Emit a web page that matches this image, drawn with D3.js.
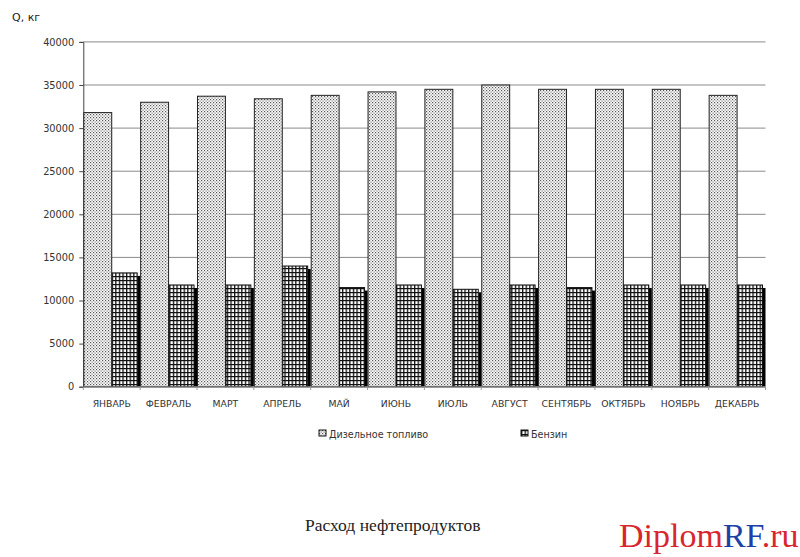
<!DOCTYPE html>
<html><head><meta charset="utf-8">
<script src="https://cdn.jsdelivr.net/npm/d3@7"></script>
<style>body{margin:0;background:#fff}svg{display:block}</style>
</head><body>
<script>
const months = ["ЯНВАРЬ","ФЕВРАЛЬ","МАРТ","АПРЕЛЬ","МАЙ","ИЮНЬ","ИЮЛЬ","АВГУСТ","СЕНТЯБРЬ","ОКТЯБРЬ","НОЯБРЬ","ДЕКАБРЬ"];
const diesel = [31800,33000,33700,33400,33800,34200,34500,35000,34500,34500,34500,33800];
const petrol = [13200,11800,11800,14000,11500,11800,11300,11800,11500,11800,11800,11800];
const seriesNames = ["Дизельное топливо","Бензин"];
const yTicks = [0,5000,10000,15000,20000,25000,30000,35000,40000];
const yLabel = "Q, кг";
const title = "Расход нефтепродуктов";

const W=800,H=557;
const svg=d3.select("body").append("svg").attr("width",W).attr("height",H);
const defs=svg.append("defs");
const pd=defs.append("pattern").attr("id","pDiesel").attr("patternUnits","userSpaceOnUse").attr("width",3).attr("height",3);
pd.append("rect").attr("width",3).attr("height",3).attr("fill","#fff");
pd.append("rect").attr("x",0).attr("y",0).attr("width",1.2).attr("height",1.2).attr("fill","#555");
pd.append("rect").attr("x",1.5).attr("y",1.5).attr("width",1.2).attr("height",1.2).attr("fill","#777");
const pp=defs.append("pattern").attr("id","pPetrol").attr("patternUnits","userSpaceOnUse").attr("width",3.6).attr("height",4);
pp.append("rect").attr("width",3.6).attr("height",4).attr("fill","#fff");
pp.append("rect").attr("x",0).attr("y",0).attr("width",1.3).attr("height",4).attr("fill","#111");
pp.append("rect").attr("x",0).attr("y",0).attr("width",3.6).attr("height",1.2).attr("fill","#111");

const x=d3.scaleBand().domain(months).range([83.3,765.5]).padding(0);
const y=d3.scaleLinear().domain([0,40000]).range([386.7,41.9]);
const xs=d3.scaleBand().domain(seriesNames).range([0,x.bandwidth()]).padding(0);

// gridlines
svg.append("g").selectAll("line").data(yTicks.filter(d=>d>0)).join("line")
  .attr("x1",83.3).attr("x2",765.5).attr("y1",d=>y(d)).attr("y2",d=>y(d))
  .attr("stroke","#8a8a8a").attr("stroke-width",1);

// y axis
const ya=svg.append("g").attr("transform","translate(83.3,0)")
  .call(d3.axisLeft(y).tickValues(yTicks).tickSize(4).tickFormat(d3.format("d")));
ya.select(".domain").attr("stroke","#444");
ya.selectAll(".tick line").attr("stroke","#444");
ya.selectAll("text").attr("font-family","DejaVu Sans").attr("font-size",9.8).attr("fill","#333").attr("x",-9);

// bars
const g=svg.append("g");
g.selectAll("rect.d").data(months).join("rect").attr("class","d")
  .attr("x",m=>x(m)+xs(seriesNames[0])+0.5).attr("y",(m,i)=>y(diesel[i]))
  .attr("width",xs.bandwidth()-0.5).attr("height",(m,i)=>y(0)-y(diesel[i]))
  .attr("fill","url(#pDiesel)").attr("stroke","#222").attr("stroke-width",1);
g.selectAll("rect.ps").data(months).join("rect").attr("class","ps")
  .attr("x",m=>x(m)+xs(seriesNames[1])+xs.bandwidth()-3).attr("y",(m,i)=>y(petrol[i])+3)
  .attr("width",3).attr("height",(m,i)=>y(0)-y(petrol[i])-3).attr("fill","#000");
g.selectAll("rect.p").data(months).join("rect").attr("class","p")
  .attr("x",m=>x(m)+xs(seriesNames[1])+0.5).attr("y",(m,i)=>y(petrol[i]))
  .attr("width",xs.bandwidth()-3.5).attr("height",(m,i)=>y(0)-y(petrol[i]))
  .attr("fill","url(#pPetrol)").attr("stroke","#111").attr("stroke-width",1);

// x axis
const xa=svg.append("g").attr("transform","translate(0,386.7)")
  .call(d3.axisBottom(x).tickSize(0).tickPadding(14));
xa.select(".domain").attr("stroke","#999").attr("stroke-width",1.5);
xa.selectAll("text").attr("font-family","DejaVu Sans").attr("font-size",9.3).attr("fill","#333");
svg.append("g").selectAll("line").data(months.concat(["end"])).join("line")
  .attr("x1",(m,i)=>i<months.length?x(m):765.5).attr("x2",(m,i)=>i<months.length?x(m):765.5)
  .attr("y1",386.7).attr("y2",390).attr("stroke","#999");

// y label
svg.append("text").attr("x",12).attr("y",21).text(yLabel)
  .attr("font-family","DejaVu Sans").attr("font-size",11).attr("fill","#222");

// legend
const leg=[{n:seriesNames[0],f:"url(#pDiesel)",x:319},{n:seriesNames[1],f:"url(#pPetrol)",x:521}];
const lg=svg.append("g").selectAll("g").data(leg).join("g").attr("transform",d=>`translate(${d.x},430)`);
lg.append("rect").attr("width",7).attr("height",6).attr("fill",d=>d.f).attr("stroke","#111").attr("stroke-width",1);
lg.append("text").attr("x",10).attr("y",7.5).text(d=>d.n)
  .attr("font-family","DejaVu Sans").attr("font-size",9.6).attr("fill","#333");

// caption
svg.append("text").attr("x",305).attr("y",531).text(title)
  .attr("font-family","Liberation Serif").attr("font-size",17.5).attr("fill","#222");

// watermark
const wm=svg.append("text").attr("x",619).attr("y",547)
  .attr("font-family","Liberation Serif").attr("font-size",34);
wm.append("tspan").text("Diplom").attr("fill","#d9252e");
wm.append("tspan").text("RF").attr("fill","#1f3fa8");
wm.append("tspan").text(".ru").attr("fill","#d9252e");
</script>
</body></html>
